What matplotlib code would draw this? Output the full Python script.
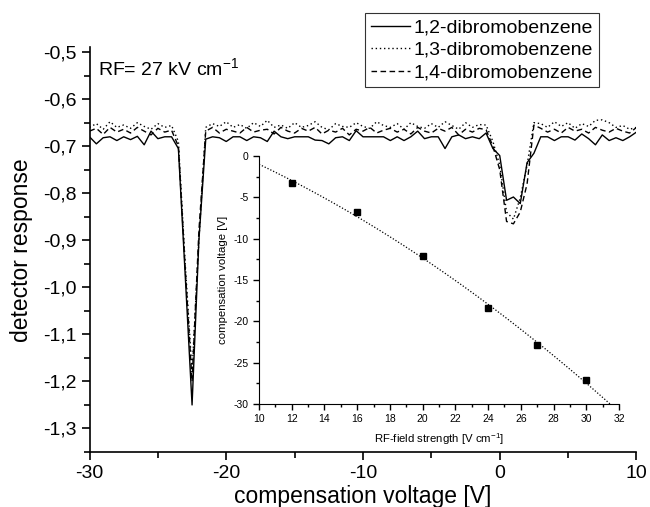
import numpy as np
import matplotlib
matplotlib.use("Agg")
import matplotlib.pyplot as plt
from matplotlib.ticker import MultipleLocator, FuncFormatter

plt.rcParams['font.family'] = ['Liberation Sans', 'DejaVu Sans']
plt.rcParams['mathtext.fontset'] = 'custom'
plt.rcParams['mathtext.rm'] = 'Liberation Sans'
plt.rcParams['mathtext.default'] = 'regular'
plt.rcParams['axes.unicode_minus'] = False

# compensation voltage scan (V), 0.5 V steps
cv = np.arange(-30.0, 10.001, 0.5)

dbb_12 = [-0.680, -0.695, -0.682, -0.680, -0.688, -0.680, -0.686, -0.679, -0.697, -0.668,
          -0.684, -0.680, -0.680, -0.705, -0.975, -1.250, -0.900, -0.685, -0.680, -0.682,
          -0.690, -0.680, -0.680, -0.688, -0.680, -0.682, -0.690, -0.668, -0.680, -0.684,
          -0.680, -0.680, -0.680, -0.687, -0.688, -0.695, -0.682, -0.680, -0.688, -0.667,
          -0.680, -0.680, -0.680, -0.680, -0.688, -0.680, -0.688, -0.680, -0.668, -0.684,
          -0.680, -0.680, -0.705, -0.680, -0.676, -0.684, -0.680, -0.684, -0.672, -0.705,
          -0.720, -0.815, -0.808, -0.822, -0.735, -0.715, -0.680, -0.680, -0.688, -0.680,
          -0.680, -0.687, -0.674, -0.684, -0.697, -0.676, -0.688, -0.682, -0.688, -0.680, -0.670]

dbb_13 = [-0.660, -0.652, -0.664, -0.648, -0.660, -0.655, -0.662, -0.650, -0.658, -0.664,
          -0.652, -0.660, -0.656, -0.690, -0.950, -1.180, -0.900, -0.660, -0.652, -0.658,
          -0.648, -0.660, -0.654, -0.662, -0.650, -0.658, -0.645, -0.660, -0.655, -0.662,
          -0.650, -0.660, -0.656, -0.648, -0.660, -0.665, -0.652, -0.658, -0.660, -0.650,
          -0.658, -0.662, -0.648, -0.656, -0.660, -0.652, -0.664, -0.650, -0.658, -0.662,
          -0.652, -0.660, -0.648, -0.656, -0.664, -0.650, -0.660, -0.654, -0.655, -0.690,
          -0.740, -0.840, -0.855, -0.810, -0.740, -0.650, -0.652, -0.660, -0.648, -0.658,
          -0.650, -0.662, -0.652, -0.658, -0.645, -0.644, -0.650, -0.660, -0.656, -0.664, -0.660]

dbb_14 = [-0.668, -0.662, -0.675, -0.660, -0.670, -0.664, -0.672, -0.660, -0.668, -0.676,
          -0.662, -0.670, -0.666, -0.700, -0.960, -1.200, -0.880, -0.668, -0.660, -0.672,
          -0.664, -0.668, -0.672, -0.660, -0.670, -0.666, -0.664, -0.674, -0.660, -0.668,
          -0.672, -0.662, -0.668, -0.660, -0.674, -0.666, -0.670, -0.662, -0.676, -0.664,
          -0.668, -0.660, -0.672, -0.666, -0.662, -0.670, -0.664, -0.674, -0.660, -0.668,
          -0.672, -0.662, -0.668, -0.660, -0.676, -0.664, -0.670, -0.662, -0.665, -0.700,
          -0.750, -0.860, -0.865, -0.840, -0.780, -0.655, -0.662, -0.670, -0.664, -0.672,
          -0.660, -0.668, -0.664, -0.672, -0.660, -0.666, -0.670, -0.662, -0.668, -0.672, -0.660]

labels = ['1,2-dibromobenzene', '1,3-dibromobenzene', '1,4-dibromobenzene']

# inset: compensation voltage vs RF field
rf_field = [12, 16, 20, 24, 27, 30]
cv_peak = [-3.3, -6.8, -12.1, -18.4, -22.9, -27.1]

fig = plt.figure(figsize=(6.5, 5.07), dpi=100)
ax = fig.add_axes([0.1377, 0.1085, 0.8415, 0.798])

l1, = ax.plot(cv, dbb_12, color='black', lw=1.0, ls='-')
l2, = ax.plot(cv, dbb_13, color='black', lw=1.0, ls=(0, (1, 2)))
l3, = ax.plot(cv, dbb_14, color='black', lw=1.0, ls=(0, (4, 2.5)))

ax.set_xlim(-30, 10)
ax.set_ylim(-1.35, -0.49)
for s in ['top', 'right']:
    ax.spines[s].set_visible(False)
for s in ['left', 'bottom']:
    ax.spines[s].set_linewidth(1.2)
ax.xaxis.set_major_locator(MultipleLocator(10))
ax.xaxis.set_minor_locator(MultipleLocator(5))
ax.yaxis.set_major_locator(MultipleLocator(0.1))
ax.yaxis.set_minor_locator(MultipleLocator(0.05))
ax.yaxis.set_major_formatter(FuncFormatter(lambda v, p: f"{v:.1f}".replace('.', ',')))
ax.tick_params(which='major', direction='out', length=6, width=1.2, labelsize=14)
ax.tick_params(which='minor', direction='out', length=4, width=1.2)
ax.set_xlabel('compensation voltage [V]', fontsize=16.5, labelpad=2)
ax.set_ylabel('detector response', fontsize=16.5, labelpad=7)

ax.text(-29.4, -0.534, 'RF= 27 kV cm$^{-1}$', fontsize=14, va='center', ha='left')

leg = ax.legend([l1, l2, l3], labels, loc='upper right', bbox_to_anchor=(0.9215, 0.9744),
                bbox_transform=fig.transFigure, fontsize=14, frameon=True, fancybox=False,
                handlelength=2.0, handletextpad=0.2, labelspacing=0.25, borderpad=0.3,
                borderaxespad=0)
leg.get_frame().set_edgecolor('black')
leg.get_frame().set_linewidth(0.8)

# inset
ins = fig.add_axes([0.3985, 0.2032, 0.5538, 0.489])
ins.patch.set_alpha(0)
coef = np.polyfit(rf_field, cv_peak, 2)
xf = np.linspace(10, 32, 200)
ins.plot(xf, np.polyval(coef, xf), color='black', lw=0.9, ls=(0, (1, 1.5)))
ins.plot(rf_field, cv_peak, 's', color='black', ms=5)
ins.set_xlim(10, 32)
ins.set_ylim(-30, 0)
for s in ['top', 'right']:
    ins.spines[s].set_visible(False)
ins.xaxis.set_major_locator(MultipleLocator(2))
ins.xaxis.set_minor_locator(MultipleLocator(1))
ins.yaxis.set_major_locator(MultipleLocator(5))
ins.yaxis.set_minor_locator(MultipleLocator(2.5))
ins.tick_params(which='major', direction='out', length=4, width=1.0, labelsize=7.5)
ins.tick_params(which='minor', direction='out', length=2.5, width=1.0)
ins.set_xlabel('RF-field strength [V cm$^{-1}$]', fontsize=8.2, labelpad=5)
ins.set_ylabel('compensation voltage [V]', fontsize=8.2, labelpad=4)

fig.savefig('out.png', dpi=100)
